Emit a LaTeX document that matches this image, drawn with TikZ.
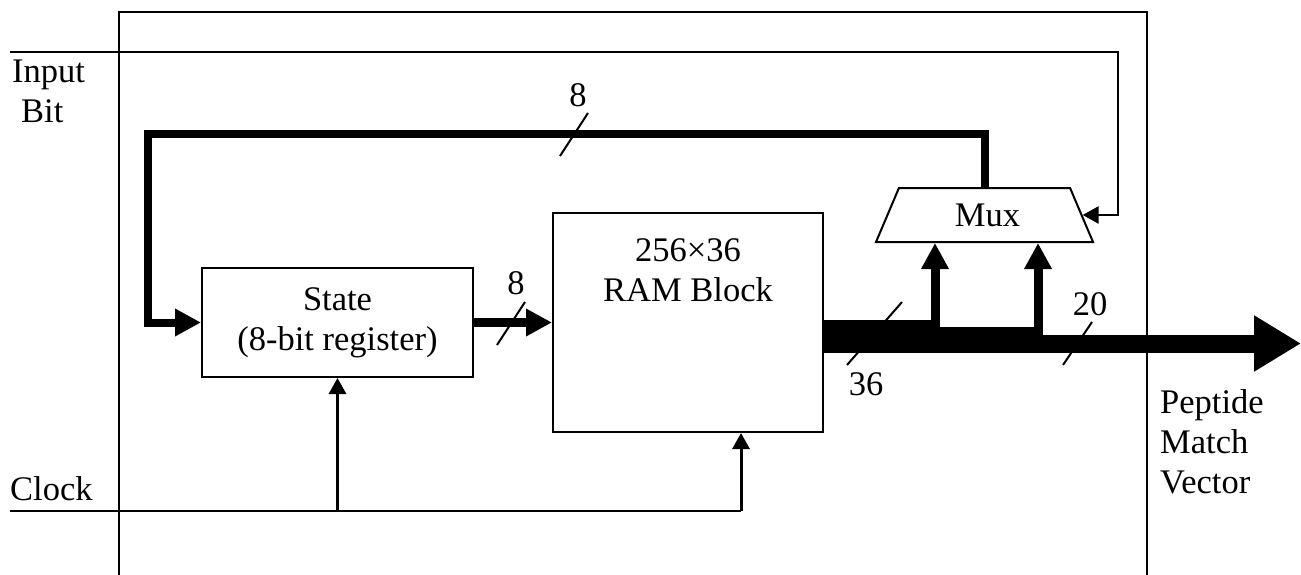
\documentclass[tikz,border=0pt]{standalone}
\usepackage{fontspec}
\setmainfont{Liberation Serif}
\usetikzlibrary{arrows.meta,positioning,shapes.geometric}
\tikzset{
  box/.style={draw, line width=2pt, align=center, inner sep=0pt},
  wire/.style={line width=2.5pt},
  bus/.style={line width=9pt},
  slash/.style={line width=2pt},
  small tip/.style={-{Triangle[length=16pt,width=17pt]}},
  bus tip/.style={-{Triangle[length=26pt,width=26pt]}},
  width label/.style={inner sep=0pt},
}
\begin{document}
\begin{tikzpicture}[x=1pt,y=-1pt,font=\fontsize{34.5}{40}\selectfont]
  \useasboundingbox (0,0) rectangle (1301,575);
  % chip outline
  \draw[line width=2pt] (119,575) -- (119,12) -- (1147,12) -- (1147,575);

  \node (state) [box, minimum width=271pt, minimum height=109pt] at (337.5,322.5) {State\\(8-bit register)};
  \node (ram) [box, minimum width=270pt, minimum height=219pt] at (688,322.5) {};
  \node (ramtext) [align=center, inner sep=0pt, below=26pt of ram.north] {256×36\\RAM Block};
  \node (mux) [box, trapezium, trapezium left angle=45, trapezium right angle=45,
               trapezium stretches body, minimum width=217pt, minimum height=54pt] at (984.5,215) {\hspace*{6pt}Mux};

  \node (inbit) [align=left, anchor=north west, inner sep=0pt] at (12,60) {Input\\ \hspace*{9pt}Bit};
  \node (clock) [anchor=base west, inner sep=0pt] at (10,500) {Clock};
  \node (pmv)   [align=left, anchor=north west, inner sep=0pt] at (1160,389) {Peptide\\Match\\Vector};

  \coordinate (inL)  at (10,52);
  \coordinate (inR)  at (1118,52);
  \coordinate (clk)  at (10,511);
  \coordinate (clkR) at (741,511);
  \coordinate (fbL)  at (148,134);
  \coordinate (busA) at (823,324.5);
  \coordinate (busB) at (823,331.5);
  \coordinate (busC) at (823,343.5);
  \coordinate (out)  at (1301,343.5);

  % input bit to mux select
  \draw[wire, small tip] (inL) -- (inR) |- (mux.east);
  % clock
  \draw[wire] (clk) -- (clkR);
  \draw[wire, line width=3pt, small tip] (state.south |- clk) -- (state.south);
  \draw[wire, line width=3pt, small tip] (clkR) -- (clkR |- ram.south);

  % buses
  \draw[bus, line width=8pt, bus tip] (mux.north) |- (fbL) |- (state.west);
  \draw[bus, bus tip] (state.east) -- (ram.west);
  \draw[bus, bus tip] (busA) -| ([xshift=-49.5pt]mux.south);
  \draw[bus, bus tip] (busB) -| ([xshift=53.5pt]mux.south);
  \draw[line width=18pt, -{Triangle[length=47pt,width=53pt]}] (busC) -- (out);

  % bus widths
  \draw[slash] (560,156) -- (588,113);
  \node (w8a) [width label] at (578,95) {8};
  \draw[slash] (497,345) -- (525,302);
  \node (w8b) [width label] at (516,283) {8};
  \draw[slash] (847,365) -- (902,302);
  \node (w36) [width label] at (866,384) {36};
  \draw[slash] (1063,365) -- (1092,322);
  \node (w20) [width label] at (1090,304) {20};
\end{tikzpicture}
\end{document}
